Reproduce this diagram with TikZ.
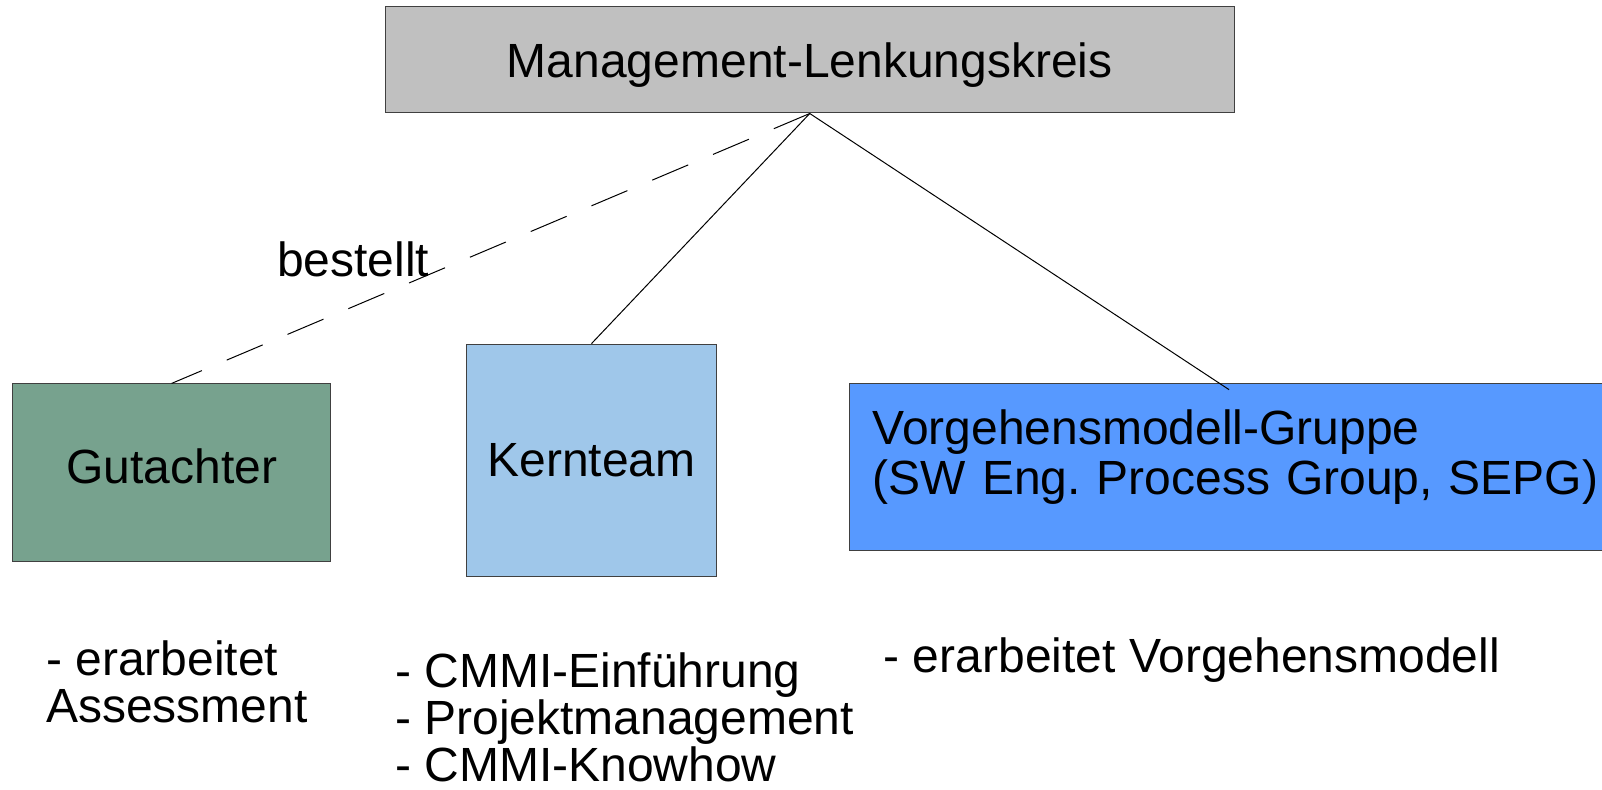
\documentclass[tikz,border=0pt]{standalone}
\usepackage{fontspec}
\setmainfont{Liberation Sans}
\frenchspacing
\definecolor{mgray}{RGB}{192,192,192}
\definecolor{ggreen}{RGB}{119,162,142}
\definecolor{kblue}{RGB}{159,199,234}
\definecolor{vblue}{RGB}{87,153,255}
\begin{document}
\begin{tikzpicture}[x=1pt,y=-1pt,
  box/.style={draw=black!75, line width=1pt, inner sep=0pt, anchor=north west},
  txt/.style={font=\fontsize{48}{47}\selectfont},
  plain/.style={txt, inner sep=0pt, anchor=north west, align=left},
  link/.style={line width=1pt, black}]
\useasboundingbox (0,0) rectangle (1602,789);
\node[box, fill=mgray, minimum width=849.5pt, minimum height=106.4pt, txt, text height=34.5pt, text depth=0pt] (m) at (384.5,6.1) {Management-Lenkungskreis};
\node[box, fill=ggreen, minimum width=317.7pt, minimum height=178pt, txt, text height=34.5pt, text depth=14pt] (g) at (12.3,383.4) {Gutachter};
\node[box, fill=kblue, minimum width=250pt, minimum height=232pt, txt] (k) at (466,343.6) {Kernteam};
\node[box, fill=vblue, minimum width=755pt, minimum height=166.6pt, align=left, text width=745pt, inner xsep=23.5pt, font=\fontsize{48}{50}\selectfont, text height=34.5pt, text depth=80pt] (v) at (848.7,383.4) {Vorgehensmodell-Gruppe\\(SW Eng. Process Group, SEPG)};
\coordinate (vend) at (1229,389.6);
\draw[link, dash pattern=on 39pt off 27pt] (m.south) -- (g.north);
\draw[link] (m.south) -- (k.north);
\draw[link] (m.south) -- (vend);
\node[txt, inner sep=0pt, anchor=base west] (b) at (277,276) {bestellt};
\node[plain] (gt) at (46,640.5) {- erarbeitet\\Assessment};
\node[plain] (kt) at (395,652.5) {- CMMI-Einführung\\- Projektmanagement\\- CMMI-Knowhow};
\node[plain] (vt) at (883.5,637.5) {- erarbeitet Vorgehensmodell};
\end{tikzpicture}
\end{document}
